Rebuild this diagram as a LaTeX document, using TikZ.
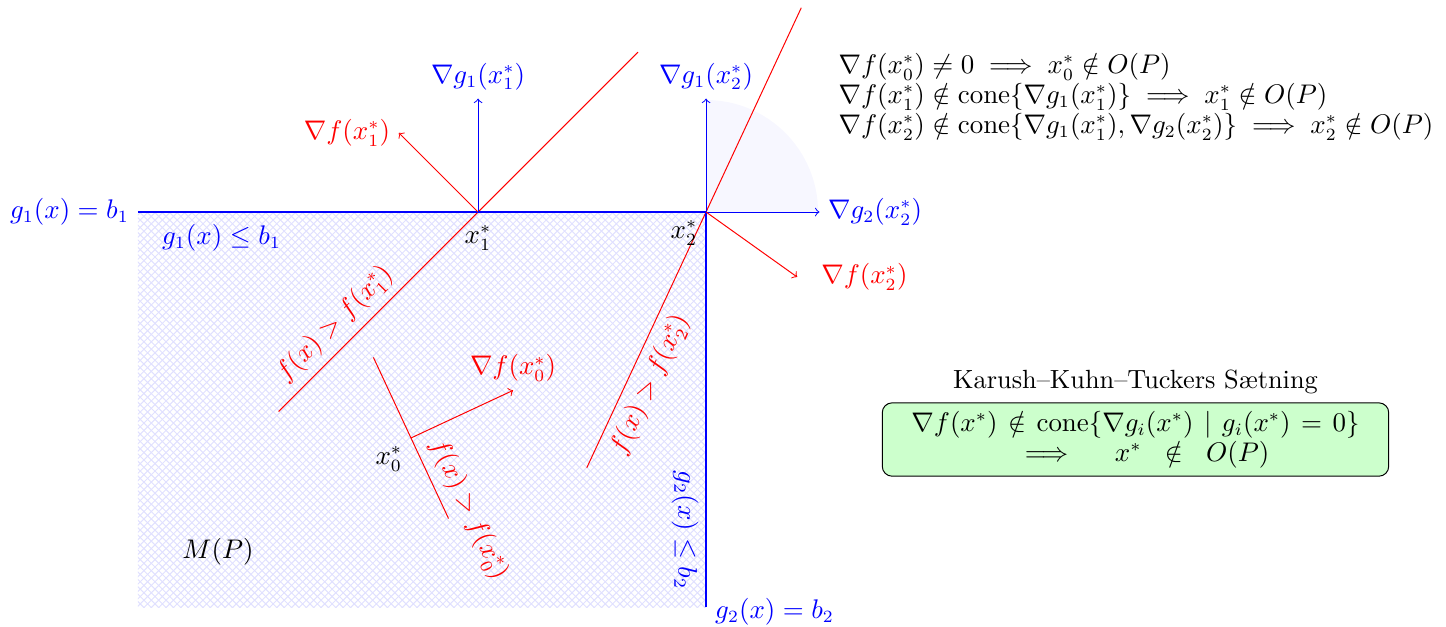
\documentclass[tikz,border=0pt]{standalone}
\usepackage{amsmath}
\usetikzlibrary{patterns}
\begin{document}
\begin{tikzpicture}[font=\fontsize{10.7}{12.2}\selectfont,
  bound/.style={thick,blue},
  ngrad/.style={->,blue},
  fgrad/.style={->,red},
  level/.style={red}]
\useasboundingbox (0,0) rectangle (20.657,8.943);
\coordinate (L) at (1.971,5.914);
\coordinate (x1) at (6.829,5.914);
\coordinate (x2) at (10.086,5.914);
\coordinate (C) at (10.086,0.271);
\coordinate (x0) at (5.871,2.686);
% M(P)
\fill[pattern=north east lines,pattern color=blue!12] (L |- C) rectangle (x2);
\fill[pattern=north west lines,pattern color=blue!12] (L |- C) rectangle (x2);
\fill[blue!3] (x2) -- ++(1.6,0) arc[start angle=0,end angle=90,radius=1.6] -- cycle;
\draw[level] (x1) +(225:4.03) -- node[pos=0.2,above,sloped] (lv1) {$f(x) > f(x_1^*)$} +(45:3.23);
\draw[level] (x2) +(245:4.03) -- node[pos=0.2,below,sloped] (lv2) {$f(x) > f(x_2^*)$} +(65:3.22);
\draw[level] (x0) +(115:1.27) -- node[pos=1,above,sloped] (lv0) {$f(x) > f(x_0^*)$} +(-65:1.27);
\draw[bound] (L) node[left] (b1) {$g_1(x) = b_1$} -- (x2) -- (C) node[right,yshift=-2pt] (b2) {$g_2(x) = b_2$};
\draw[fgrad] (x0) -- +(25:1.61) node[above] (df0) {$\nabla f(x_0^*)$};
\draw[fgrad] (x1) -- +(135:1.6) node[left] (df1) {$\nabla f(x_1^*)$};
\draw[ngrad] (x1) -- +(0,1.62) node[above] (dg11) {$\nabla g_1(x_1^*)$};
\draw[ngrad] (x2) -- +(0,1.62) node[above] (dg12) {$\nabla g_1(x_2^*)$};
\draw[ngrad] (x2) -- +(1.62,0) node[right] (dg22) {$\nabla g_2(x_2^*)$};
\draw[fgrad] (x2) -- +(-35.5:1.6) node[right=0.22cm] (df2) {$\nabla f(x_2^*)$};
\node[below=2pt] (lx1) at (x1) {$x_1^*$};
\node[below left=0pt] (lx2) at (x2) {$x_2^*$};
\node[below left=0pt] (lx0) at (x0) {$x_0^*$};
\node[blue] (le1) at (3.164,5.543) {$g_1(x) \le b_1$};
\node[blue,rotate=-90] (le2) at (9.786,1.371) {$g_2(x) \le b_2$};
\node (MP) at (3.114,1.057) {$M(P)$};
\node[right,align=left] (cases) at (11.857,7.557) {$\nabla f(x_0^*) \neq 0 \implies x_0^* \notin O(P)$\\
  $\nabla f(x_1^*) \notin \mathrm{cone}\{\nabla g_1(x_1^*)\} \implies x_1^* \notin O(P)$\\
  $\nabla f(x_2^*) \notin \mathrm{cone}\{\nabla g_1(x_1^*), \nabla g_2(x_2^*)\} \implies x_2^* \notin O(P)$};
\node[draw,fill=green!20,rounded corners,text width=7cm,align=center] (kkt) at (16.221,2.664)
  {$\nabla f(x^*) \notin \mathrm{cone}\{\nabla g_i(x^*) \mid g_i(x^*) = 0\}$\\
   $\implies x^* \notin O(P)$};
\node[above] (title) at (kkt.north) {Karush--Kuhn--Tuckers S\ae tning};
\end{tikzpicture}
\end{document}
